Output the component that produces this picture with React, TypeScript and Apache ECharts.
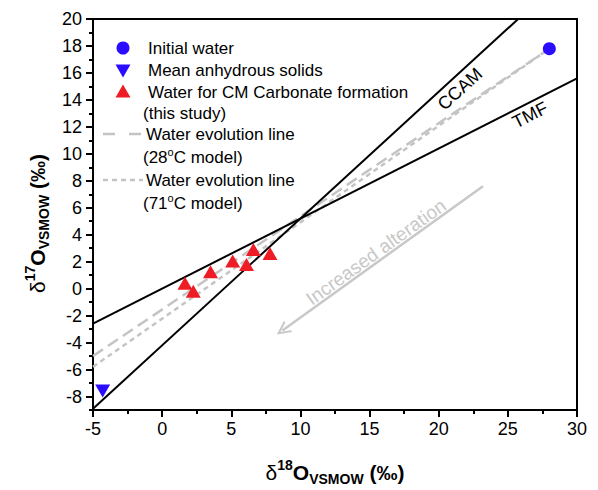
import React, { useEffect, useRef } from 'react';
import * as echarts from 'echarts';

// ---- data (δ18O, δ17O in ‰ VSMOW) ----
const initialWater = [[28.0, 17.8]];
const meanAnhydrousSolids = [[-4.3, -7.6]];
const cmCarbonateWater = [
  [1.65, 0.4],
  [2.25, -0.2],
  [3.5, 1.25],
  [5.1, 2.05],
  [6.1, 1.8],
  [6.6, 2.9],
  [7.8, 2.6],
];
const ccamLine = [[-5, -8.9], [30, 24.0]];
const tmfLine = [[-5, -2.6], [30, 15.6]];
const evolution28 = [[-5, -5.0], [28, 17.8]];
const evolution71 = [[-5, -5.8], [28, 17.8]];
const alterationArrow = [[23.2, 7.6], [8.7, -3.1]];
const yLabelValues = [-8, -6, -4, -2, 0, 2, 4, 6, 8, 10, 12, 14, 16, 18, 20];

const FONT = '"Liberation Sans", Arial, sans-serif';
const BLUE = '#2a0cff';
const RED = '#ee1c24';
const GRAY = '#c4c4c4';

const chevron = 'path://M5,0 L10,10 L8.4,10 L5,3.2 L1.6,10 L0,10 Z';

const titleRich = {
  d: { fontSize: 21, fontFamily: FONT, color: '#000', lineHeight: 28 },
  sup: { fontSize: 14, fontFamily: FONT, color: '#000', fontWeight: 'bold', verticalAlign: 'top', lineHeight: 13 },
  o: { fontSize: 21, fontFamily: FONT, color: '#000', fontWeight: 'bold', lineHeight: 28 },
  sub: { fontSize: 14, fontFamily: FONT, color: '#000', fontWeight: 'bold', verticalAlign: 'bottom', lineHeight: 13 },
  p: { fontSize: 21, fontFamily: FONT, color: '#000', fontWeight: 'bold', lineHeight: 28 },
};

export default function App() {
  const ref = useRef<HTMLDivElement>(null);
  useEffect(() => {
    if (!ref.current) return;
    const chart = echarts.init(ref.current, undefined, { renderer: 'svg' });
    const legendText = (y: number, text: string, x = 148) => ({
      type: 'text',
      x,
      y,
      style: { text, fontSize: 17, fontFamily: FONT, fill: '#000', verticalAlign: 'middle', align: 'left' },
    });
    const modelText = (y: number, t: string) => ({
      type: 'text',
      x: 143,
      y,
      style: {
        text: `{a|(${t}}{s|o}{a|C model)}`,
        fontFamily: FONT,
        fill: '#000',
        verticalAlign: 'middle',
        align: 'left',
        rich: {
          a: { fontSize: 17, fontFamily: FONT, fill: '#000', lineHeight: 22 },
          s: { fontSize: 11, fontFamily: FONT, fill: '#000', verticalAlign: 'top', lineHeight: 11 },
        },
      },
    });
    const option: any = {
      animation: false,
      grid: {
        left: 93,
        right: 21,
        top: 19,
        bottom: 80,
        show: true,
        borderColor: '#000',
        borderWidth: 2,
        backgroundColor: 'transparent',
        containLabel: false,
        outerBoundsMode: 'none',
      },
      xAxis: {
        type: 'value',
        min: -5,
        max: 30,
        interval: 5,
        axisLine: { onZero: false, lineStyle: { color: '#000', width: 2 } },
        axisTick: { length: 7, lineStyle: { color: '#000', width: 2 } },
        minorTick: { show: true, splitNumber: 2, length: 4, lineStyle: { color: '#000', width: 2 } },
        splitLine: { show: false },
        axisLabel: { color: '#000', fontSize: 18, fontFamily: FONT, margin: 10 },
        name: '{d|δ}{sup|18}{o|O}{sub|VSMOW}{p| (‰)}',
        nameLocation: 'middle',
        nameGap: 48,
        nameTextStyle: { rich: titleRich },
      },
      yAxis: [
        {
          type: 'value',
          min: -9,
          max: 20,
          interval: 1,
          axisLine: { onZero: false, lineStyle: { color: '#000', width: 2 } },
          axisTick: { length: 7, customValues: yLabelValues, lineStyle: { color: '#000', width: 2 } },
          splitLine: { show: false },
          axisLabel: { color: '#000', fontSize: 18, fontFamily: FONT, margin: 11, customValues: yLabelValues },
          name: '{d|δ}{sup|17}{o|O}{sub|VSMOW}{p| (‰)}',
          nameLocation: 'middle',
          nameGap: 38,
          nameRotate: 90,
          nameTextStyle: {
            padding: [0, 18, 0, 0],
            rich: titleRich,
          },
        },
        {
          type: 'value',
          min: -9,
          max: 20,
          interval: 1,
          position: 'left',
          axisLine: { show: false, onZero: false },
          axisTick: { show: true, length: 4, lineStyle: { color: '#000', width: 2 } },
          axisLabel: { show: false },
          splitLine: { show: false },
        },
      ],
      series: [
        {
          name: 'CCAM',
          type: 'line',
          data: ccamLine,
          symbol: 'none',
          lineStyle: { color: '#000', width: 2 },
          z: 3,
        },
        {
          name: 'TMF',
          type: 'line',
          data: tmfLine,
          symbol: 'none',
          lineStyle: { color: '#000', width: 2 },
          z: 3,
        },
        {
          name: 'Water evolution line (28°C model)',
          type: 'line',
          data: evolution28,
          symbol: 'none',
          lineStyle: { color: GRAY, width: 2.5, type: [12, 6] },
          z: 2,
        },
        {
          name: 'Water evolution line (71°C model)',
          type: 'line',
          data: evolution71,
          symbol: 'none',
          lineStyle: { color: GRAY, width: 2.5, type: [5, 4] },
          z: 2,
        },
        {
          name: 'Increased alteration',
          type: 'lines',
          coordinateSystem: 'cartesian2d',
          silent: true,
          symbol: ['none', chevron],
          symbolSize: [14, 14],
          lineStyle: { color: '#c8c8c8', width: 2.5, curveness: 0, opacity: 1 },
          data: [{ coords: alterationArrow }],
          z: 2,
        },
        {
          name: 'Initial water',
          type: 'scatter',
          data: initialWater,
          symbol: 'circle',
          symbolSize: 13,
          itemStyle: { color: BLUE, opacity: 1 },
          z: 5,
        },
        {
          name: 'Mean anhydrous solids',
          type: 'scatter',
          data: meanAnhydrousSolids,
          symbol: 'triangle',
          symbolRotate: 180,
          symbolSize: [15, 13],
          itemStyle: { color: BLUE, opacity: 1 },
          z: 5,
        },
        {
          name: 'Water for CM Carbonate formation (this study)',
          type: 'scatter',
          data: cmCarbonateWater,
          symbol: 'triangle',
          symbolSize: [15, 13],
          itemStyle: { color: RED, opacity: 1 },
          z: 5,
        },
      ],
      graphic: [
        {
          type: 'text',
          x: 460,
          y: 89,
          rotation: (42.5 * Math.PI) / 180,
          style: { text: 'CCAM', fontSize: 18, fontFamily: FONT, fill: '#000', align: 'center', verticalAlign: 'middle' },
        },
        {
          type: 'text',
          x: 530,
          y: 115,
          rotation: (26.9 * Math.PI) / 180,
          style: { text: 'TMF', fontSize: 18, fontFamily: FONT, fill: '#000', align: 'center', verticalAlign: 'middle' },
        },
        {
          type: 'text',
          x: 376,
          y: 252,
          rotation: (35.7 * Math.PI) / 180,
          style: { text: 'Increased alteration', fontSize: 19, fontFamily: FONT, fill: '#c8c8c8', align: 'center', verticalAlign: 'middle' },
        },
        // legend
        { type: 'circle', shape: { cx: 123, cy: 48, r: 6.5 }, style: { fill: BLUE } },
        legendText(48, 'Initial water'),
        { type: 'polygon', shape: { points: [[115.5, 64.5], [130.5, 64.5], [123, 77.5]] }, style: { fill: BLUE } },
        legendText(70, 'Mean anhydrous solids'),
        { type: 'polygon', shape: { points: [[115.5, 97.5], [130.5, 97.5], [123, 84.5]] }, style: { fill: RED } },
        legendText(92, 'Water for CM Carbonate formation'),
        legendText(113, '(this study)', 143),
        { type: 'line', shape: { x1: 103, y1: 134, x2: 143, y2: 134 }, style: { stroke: GRAY, lineWidth: 2.5, lineDash: [12, 14] } },
        legendText(134, 'Water evolution line', 146),
        modelText(157, '28'),
        { type: 'line', shape: { x1: 103, y1: 180, x2: 143, y2: 180 }, style: { stroke: GRAY, lineWidth: 2.5, lineDash: [5, 4] } },
        legendText(180, 'Water evolution line', 146),
        modelText(203, '71'),
      ],
    };
    chart.setOption(option);
    return () => chart.dispose();
  }, []);
  return <div ref={ref} style={{ width: 598, height: 490, position: 'absolute', left: 0, top: 0 }} />;
}
